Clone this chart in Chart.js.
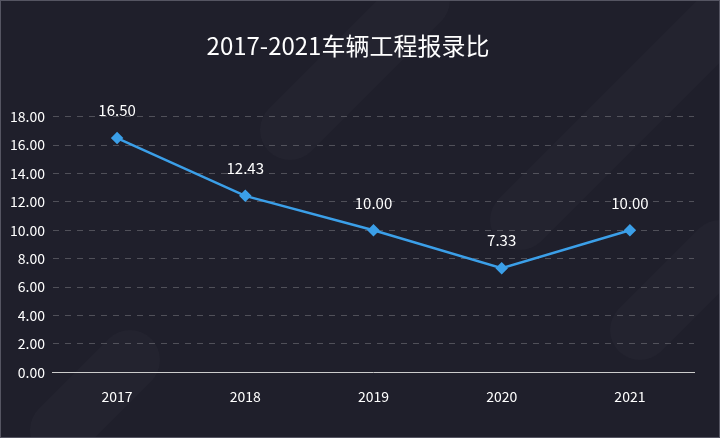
<!DOCTYPE html>
<html><head><meta charset="utf-8">
<script src="https://cdn.jsdelivr.net/npm/chart.js@4"></script>
<style>html,body{margin:0;padding:0;background:#1f1f2b;}#w{width:720px;height:438px;position:relative;}</style>
</head><body><div id="w"><canvas id="c"></canvas></div>
<script>
const categories = ['2017','2018','2019','2020','2021'];
const values = [16.50, 12.43, 10.00, 7.33, 10.00];
const yTicks = [0,2,4,6,8,10,12,14,16,18];

const bg = {
  id:'bg',
  beforeDraw(c){
    const x=c.ctx; x.save();
    x.fillStyle='#1f1f2b'; x.fillRect(0,0,c.width,c.height);
    x.strokeStyle='rgba(255,255,255,0.02)'; x.lineCap='round'; x.lineWidth=60;
    [[420,0,290,130],[720,20,520,220],[720,250,640,330],[130,360,60,430]].forEach(s=>{x.beginPath();x.moveTo(s[0],s[1]);x.lineTo(s[2],s[3]);x.stroke();});
    x.strokeStyle='#555562'; x.lineWidth=1; x.strokeRect(0.5,0.5,c.width-1,c.height-1);
    x.restore();
  },
  afterDatasetsDraw(c){
    const x=c.ctx; x.save();
    x.fillStyle='#ffffff'; x.font='15px "Noto Sans CJK SC", sans-serif'; x.textAlign='center'; x.textBaseline='bottom';
    c.getDatasetMeta(0).data.forEach((p,i)=>x.fillText(values[i].toFixed(2),p.x,p.y-20));
    x.restore();
  }
};

new Chart(document.getElementById('c'),{
  type:'line',
  data:{labels:categories,datasets:[{data:values,borderColor:'#3b9fe8',backgroundColor:'#3b9fe8',borderWidth:2.5,pointStyle:'rectRot',pointRadius:4.5,pointHoverRadius:4.5,tension:0}]},
  options:{
    responsive:true,maintainAspectRatio:false,animation:false,devicePixelRatio:1,
    layout:{padding:{left:2,right:26,top:10,bottom:25}},
    plugins:{legend:{display:false},tooltip:{enabled:false},
      title:{display:true,text:'2017-2021车辆工程报录比',color:'#ffffff',font:{size:24,family:'"Noto Sans CJK SC", sans-serif',weight:'normal'},padding:{top:21,bottom:57}}},
    scales:{
      x:{offset:true,grid:{display:false},border:{color:'#cccccc'},ticks:{color:'#ffffff',font:{size:14,family:'"Noto Sans CJK SC", sans-serif'},padding:8}},
      y:{min:0,max:18,afterBuildTicks(s){s.ticks=yTicks.map(v=>({value:v}));},
        grid:{color:'rgba(255,255,255,0.22)',drawTicks:false},border:{display:false,dash:[6,6]},
        ticks:{color:'#ffffff',font:{size:14,family:'"Noto Sans CJK SC", sans-serif'},padding:8,callback:v=>Number(v).toFixed(2)}}
    }
  },
  plugins:[bg]
});
</script></body></html>
